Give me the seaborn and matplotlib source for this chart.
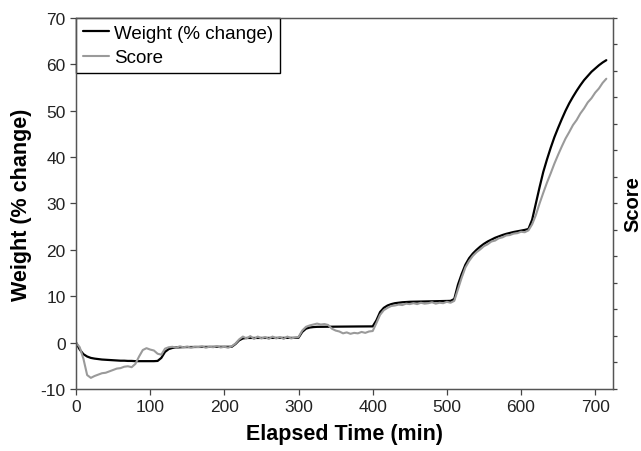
import numpy as np
import pandas as pd
import matplotlib
matplotlib.use("Agg")
import matplotlib.pyplot as plt
import seaborn as sns

# time grid (min) shared by both series
elapsed_min = list(range(0, 720, 5))

weight_pct = [
    0.0, -1.5, -2.5, -3.0, -3.3, -3.45, -3.55, -3.65, -3.7, -3.75,
    -3.8, -3.85, -3.9, -3.9, -3.95, -3.95, -4.0, -4.0, -4.0, -4.0,
    -4.0, -4.0, -3.95, -3.3, -2.0, -1.4, -1.15, -1.05, -1.0, -0.97,
    -0.95, -0.95, -0.95, -0.93, -0.93, -0.92, -0.92, -0.92, -0.91, -0.91,
    -0.9, -0.9, -0.9, -0.3, 0.5, 0.9, 1.0, 1.0, 1.0, 1.0,
    1.0, 1.0, 1.0, 1.0, 1.0, 1.0, 1.0, 1.0, 1.0, 1.02,
    1.05, 2.3, 3.0, 3.25, 3.35, 3.4, 3.4, 3.42, 3.42, 3.44,
    3.44, 3.45, 3.45, 3.46, 3.47, 3.47, 3.48, 3.48, 3.49, 3.5,
    3.5, 4.8, 6.6, 7.5, 8.0, 8.3, 8.5, 8.6, 8.7, 8.75,
    8.8, 8.82, 8.85, 8.87, 8.9, 8.9, 8.92, 8.94, 8.95, 8.97,
    8.98, 9.0, 9.4, 12.5, 14.8, 16.8, 18.2, 19.2, 20.0, 20.7,
    21.3, 21.8, 22.2, 22.6, 22.9, 23.2, 23.45, 23.65, 23.85, 24.0,
    24.15, 24.3, 24.5, 26.5, 30.0, 33.5, 36.8, 39.5, 42.0, 44.3,
    46.3, 48.2, 50.0, 51.6, 53.0, 54.3, 55.5, 56.6, 57.5, 58.4,
    59.1, 59.8, 60.4, 60.9,
]

score = [
    0.0, -1.0, -3.5, -7.0, -7.6, -7.2, -6.9, -6.6, -6.5, -6.2,
    -5.9, -5.6, -5.5, -5.2, -5.1, -5.3, -4.6, -3.0, -1.6, -1.2,
    -1.5, -1.7, -2.4, -2.6, -1.3, -1.0, -0.9, -1.1, -0.8, -1.0,
    -0.85, -1.1, -0.9, -0.95, -0.8, -1.1, -0.9, -1.0, -0.75, -1.05,
    -0.9, -1.1, -0.8, -0.2, 0.7, 1.3, 0.9, 1.4, 0.8, 1.3,
    0.9, 1.2, 0.8, 1.3, 0.9, 1.2, 0.8, 1.3, 0.9, 1.1,
    1.2, 2.6, 3.4, 3.7, 3.9, 4.1, 3.9, 4.0, 3.8, 3.0,
    2.6, 2.4, 2.0, 2.2, 1.9, 2.1, 2.0, 2.3, 2.1, 2.4,
    2.5, 4.2, 6.0, 7.0, 7.5, 7.9, 8.0, 8.2, 8.1, 8.4,
    8.3, 8.5, 8.3, 8.6, 8.4, 8.5, 8.7, 8.4, 8.6, 8.5,
    8.8, 8.6, 9.0, 11.5, 14.0, 16.2, 17.6, 18.7, 19.5, 20.1,
    20.8, 21.2, 21.8, 22.0, 22.5, 22.7, 23.1, 23.2, 23.5, 23.6,
    23.9, 23.8, 24.2, 25.5, 27.5, 30.0, 32.3, 34.5, 36.5, 38.6,
    40.5, 42.3, 44.0, 45.4, 46.9, 48.0, 49.4, 50.5, 51.8, 52.7,
    53.9, 54.8, 56.0, 56.9,
]

x_ticks = [0, 100, 200, 300, 400, 500, 600, 700]
y_ticks = [-10, 0, 10, 20, 30, 40, 50, 60, 70]

sns.set_style("ticks")
plt.rcParams["font.family"] = ["Liberation Sans", "DejaVu Sans"]
plt.rcParams["axes.unicode_minus"] = False
plt.rcParams["text.color"] = "black"
plt.rcParams["axes.labelcolor"] = "black"
plt.rcParams["xtick.color"] = "#444444"
plt.rcParams["ytick.color"] = "#444444"
plt.rcParams["xtick.labelcolor"] = "#222222"
plt.rcParams["ytick.labelcolor"] = "#222222"

df = pd.DataFrame({"t": elapsed_min, "weight": weight_pct, "score": score})

fig = plt.figure(figsize=(6.41, 4.52), dpi=100)
ax = fig.add_axes([0.1186, 0.1372, 0.8377, 0.8208])

sns.lineplot(data=df, x="t", y="weight", ax=ax, color="black", lw=1.6,
             label="Weight (% change)")
sns.lineplot(data=df, x="t", y="score", ax=ax, color="#9a9a9a", lw=1.5,
             label="Score")

ax.set_xlim(0, 724)
ax.set_ylim(-10, 70)
ax.set_xticks(x_ticks)
ax.set_yticks(y_ticks)
ax.tick_params(axis="both", labelsize=12.5, direction="out", length=4.5,
               width=0.9, pad=3)
for s in ax.spines.values():
    s.set_color("#555555")
    s.set_linewidth(1.0)
    s.set_visible(True)

ax.set_xlabel("Elapsed Time (min)", fontsize=15.5, fontweight="bold", labelpad=6)
ax.set_ylabel("Weight (% change)", fontsize=15.5, fontweight="bold", labelpad=6)

# right axis: ticks only, no numbers
ax2 = ax.twinx()
ax2.set_ylim(0, 14)
ax2.set_yticks(range(0, 15))
ax2.set_yticklabels([])
ax2.tick_params(axis="y", direction="out", length=3, width=0.9)
ax2.set_ylabel("Score", fontsize=14.5, fontweight="bold", labelpad=1)
for s in ax2.spines.values():
    s.set_color("#555555")

leg = ax.legend(loc="upper left", fontsize=13.5, frameon=True, fancybox=False,
                edgecolor="black", framealpha=1, borderaxespad=0,
                handlelength=1.4, handletextpad=0.3, borderpad=0.35,
                labelspacing=0.4)
leg.get_frame().set_linewidth(1.0)

fig.savefig("out.png", dpi=100)
